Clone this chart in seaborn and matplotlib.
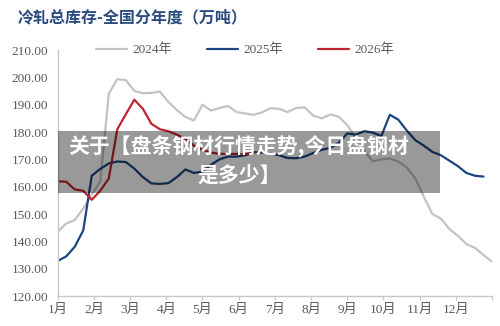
import seaborn as sns
import matplotlib.pyplot as plt
import numpy as np
import pandas as pd
from matplotlib.patches import Rectangle

# 周度数据（万吨）
years = ["2024年", "2025年", "2026年"]
v2024 = [143.5, 146.5, 147.8, 152.0, 157.0, 162.0, 194.0, 199.3, 199.0, 195.0,
         194.2, 194.3, 194.8, 191.0, 188.0, 185.5, 184.2, 190.0, 187.8, 188.8,
         189.5, 187.3, 186.8, 186.3, 187.2, 188.7, 188.5, 187.3, 188.8, 189.0,
         186.0, 185.0, 186.4, 185.6, 182.5, 178.0, 173.0, 169.3, 170.0, 170.3,
         169.2, 167.0, 163.0, 156.3, 150.0, 148.3, 144.5, 142.0, 139.0, 137.6,
         135.0, 132.5]
v2025 = [132.8, 134.5, 138.0, 144.0, 164.0, 166.5, 168.5, 169.2, 169.0, 166.6,
         163.5, 161.2, 161.0, 161.3, 163.5, 166.3, 165.0, 165.5, 168.0, 170.0,
         171.0, 171.0, 171.5, 172.6, 172.5, 172.2, 171.5, 170.5, 170.4, 171.0,
         172.3, 173.5, 174.2, 176.0, 179.5, 179.0, 180.3, 179.8, 178.5, 186.3,
         184.5, 180.5, 177.0, 175.0, 172.7, 171.5, 169.5, 167.5, 165.0, 164.0,
         163.7]
v2026 = [162.0, 161.8, 159.0, 158.5, 155.2, 158.5, 163.0, 181.0, 186.5, 191.8,
         188.5, 183.0, 181.0, 180.3, 179.0, 177.5, 175.0, 173.5, 172.5, 172.0,
         172.0, 172.0, 171.8, 172.5]
months = ["1月", "2月", "3月", "4月", "5月", "6月", "7月", "8月", "9月", "10月", "11月", "12月"]

rows = []
for yr, vals in zip(years, [v2024, v2025, v2026]):
    for i, v in enumerate(vals):
        rows.append({"week": i * 12 / 51, "value": v, "year": yr})
df = pd.DataFrame(rows)

sns.set_theme(style="white")
plt.rcParams['font.family'] = ['Liberation Serif', 'Noto Sans CJK SC', 'DejaVu Sans']

fig = plt.figure(figsize=(5, 3.26), dpi=100)
ax = fig.add_axes([57.7 / 500, 1 - 296 / 326, (492 - 57.7) / 500, 246 / 326])

palette = {"2024年": "#c3c3c3", "2025年": "#1d4581", "2026年": "#c0252c"}
sns.lineplot(data=df, x="week", y="value", hue="year", hue_order=years,
             palette=palette, linewidth=1.6, sort=False, ax=ax)

ax.set_xlim(0, 12)
ax.set_ylim(120, 210)
ax.set_yticks(np.arange(120, 211, 10))
ax.set_yticklabels([f"{v:.2f}" for v in range(120, 211, 10)])
ax.set_xticks(range(13))
ax.set_xticklabels(months + [""])
ax.set_xlabel("")
ax.set_ylabel("")
for s in ["top", "right"]:
    ax.spines[s].set_visible(False)
for s in ["left", "bottom"]:
    ax.spines[s].set_color("#c8c8c8")
    ax.spines[s].set_linewidth(1.0)
ax.tick_params(axis="y", length=0, pad=7, labelsize=9.5, labelcolor="#595959")
ax.tick_params(axis="x", length=3, width=0.8, color="#c8c8c8", direction="out",
               pad=3, labelsize=9.5, labelcolor="#595959", bottom=True)

ax.legend(loc="center", bbox_to_anchor=(245 / 500, 1 - 50 / 326),
          bbox_transform=fig.transFigure, ncol=3, frameon=False,
          fontsize=9.5, handlelength=2.4, handletextpad=0.4, columnspacing=2.6,
          labelcolor="#595959")

fig.text(18 / 500, 1 - 17 / 326, "冷轧总库存-全国分年度（万吨）", ha="left", va="center",
         fontsize=11.5, fontweight="bold", color="#2b4a7d",
         family=['Noto Sans CJK SC', 'DejaVu Sans'])

# 半透明遮罩和标题文字
fig.patches.append(Rectangle((58 / 500, 1 - 193 / 326), 382 / 500, 62 / 326,
                             transform=fig.transFigure, facecolor="black",
                             alpha=0.4, edgecolor="none", zorder=5))
fig.text(239 / 500, 1 - 147 / 326, "关于【盘条钢材行情走势,今日盘钢材", ha="center",
         va="center", fontsize=15, fontweight="bold", color="white", zorder=6,
         family=['Noto Sans CJK SC', 'DejaVu Sans'])
fig.text(239 / 500, 1 - 175 / 326, "是多少】", ha="center", va="center",
         fontsize=15, fontweight="bold", color="white", zorder=6,
         family=['Noto Sans CJK SC', 'DejaVu Sans'])

fig.savefig("out.png", dpi=100)
